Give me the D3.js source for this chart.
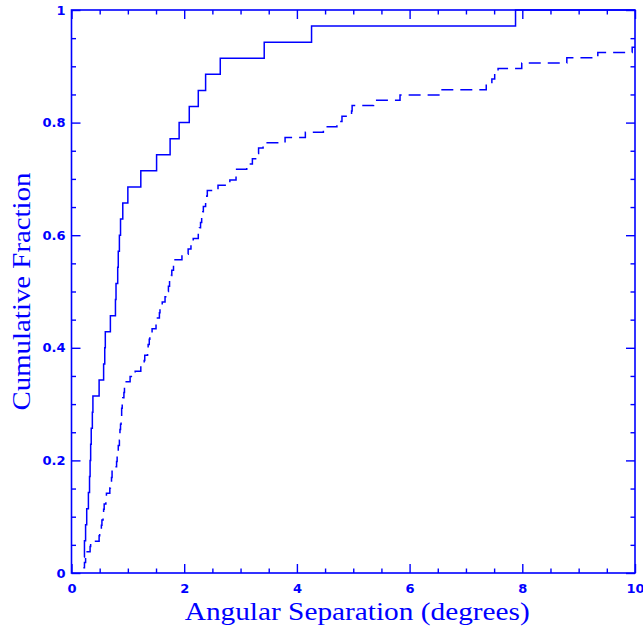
<!DOCTYPE html>
<html>
<head>
<meta charset="utf-8">
<script src="https://cdn.jsdelivr.net/npm/d3@7"></script>
<style>
  html, body { margin: 0; padding: 0; background: #ffffff; }
  svg { display: block; }
</style>
</head>
<body>
<svg id="chart" width="643" height="630"></svg>
<script>
// Sorted angular separations (degrees) for the two samples.
const solidSeparations = [
  0.22, 0.23, 0.25, 0.27, 0.30, 0.32, 0.33, 0.34, 0.35, 0.37,
  0.38, 0.49, 0.57, 0.59, 0.60, 0.69, 0.78, 0.79, 0.82, 0.83,
  0.85, 0.87, 0.91, 1.00, 1.23, 1.51, 1.75, 1.91, 2.09, 2.25,
  2.38, 2.64, 3.42, 4.26, 7.88
];
const solidSampleSize = 35;

const dashedSeparations = [
  0.21, 0.23, 0.25, 0.26, 0.33, 0.34, 0.49, 0.50, 0.53, 0.54,
  0.56, 0.57, 0.58, 0.61, 0.62, 0.68, 0.69, 0.71, 0.72, 0.72,
  0.80, 0.81, 0.82, 0.83, 0.85, 0.86, 0.86, 0.87, 0.88, 0.89,
  0.89, 0.90, 0.91, 0.93, 0.94, 0.95, 1.04, 1.13, 1.23, 1.29,
  1.30, 1.35, 1.36, 1.38, 1.39, 1.43, 1.50, 1.51, 1.56, 1.57,
  1.61, 1.66, 1.69, 1.72, 1.74, 1.77, 1.78, 1.81, 1.82, 1.96,
  2.07, 2.12, 2.16, 2.25, 2.27, 2.29, 2.31, 2.33, 2.34, 2.38,
  2.40, 2.41, 2.60, 2.81, 2.92, 2.93, 3.11, 3.21, 3.31, 3.32,
  3.40, 3.79, 4.15, 4.47, 4.71, 4.80, 4.97, 4.98, 5.36, 5.83,
  6.54, 7.36, 7.46, 7.51, 7.57, 7.99, 8.79, 9.34, 9.95
];
const dashedSampleSize = 106;

const xMajorTicks = [0, 2, 4, 6, 8, 10];
const xMinorTicks = [0.5, 1, 1.5, 2.5, 3, 3.5, 4.5, 5, 5.5, 6.5, 7, 7.5, 8.5, 9, 9.5];
const yMajorTicks = [0, 0.2, 0.4, 0.6, 0.8, 1];
const yMinorTicks = [0.05, 0.1, 0.15, 0.25, 0.3, 0.35, 0.45, 0.5, 0.55, 0.65, 0.7, 0.75, 0.85, 0.9, 0.95];
const xTickLabels = ["0", "2", "4", "6", "8", "10"];
const yTickLabels = ["0", "0.2", "0.4", "0.6", "0.8", "1"];

const xTitle = "Angular Separation (degrees)";
const yTitle = "Cumulative Fraction";

const ink = "#0000ff";
const plotLeft = 71.5, plotRight = 635, plotTop = 10, plotBottom = 573;

const svg = d3.select("#chart");
const x = d3.scaleLinear().domain([0, 10]).range([plotLeft, plotRight]);
const y = d3.scaleLinear().domain([0, 1]).range([plotBottom, plotTop]);

const majorLen = 9, minorLen = 4.5;

function styleAxis(g) {
  g.select(".domain").remove();
  g.selectAll(".tick line").attr("stroke", ink).attr("stroke-width", 1.4);
  g.selectAll(".tick text")
    .attr("fill", ink)
    .style("font-family", "'DejaVu Sans', sans-serif")
    .style("font-weight", "bold")
    .style("font-size", "13px");
}

// bottom
svg.append("g").attr("transform", `translate(0,${plotBottom})`)
  .call(d3.axisBottom(x).tickValues(xMajorTicks).tickSize(-majorLen).tickPadding(11)
    .tickFormat((d, i) => xTickLabels[i]))
  .call(styleAxis);
svg.append("g").attr("transform", `translate(0,${plotBottom})`)
  .call(d3.axisBottom(x).tickValues(xMinorTicks).tickSize(-minorLen).tickFormat(""))
  .call(styleAxis);
// top
svg.append("g").attr("transform", `translate(0,${plotTop})`)
  .call(d3.axisTop(x).tickValues(xMajorTicks).tickSize(-majorLen).tickFormat(""))
  .call(styleAxis);
svg.append("g").attr("transform", `translate(0,${plotTop})`)
  .call(d3.axisTop(x).tickValues(xMinorTicks).tickSize(-minorLen).tickFormat(""))
  .call(styleAxis);
// left
svg.append("g").attr("transform", `translate(${plotLeft},0)`)
  .call(d3.axisLeft(y).tickValues(yMajorTicks).tickSize(-majorLen).tickPadding(6)
    .tickFormat((d, i) => yTickLabels[i]))
  .call(styleAxis);
svg.append("g").attr("transform", `translate(${plotLeft},0)`)
  .call(d3.axisLeft(y).tickValues(yMinorTicks).tickSize(-minorLen).tickFormat(""))
  .call(styleAxis);
// right
svg.append("g").attr("transform", `translate(${plotRight},0)`)
  .call(d3.axisRight(y).tickValues(yMajorTicks).tickSize(-majorLen).tickFormat(""))
  .call(styleAxis);
svg.append("g").attr("transform", `translate(${plotRight},0)`)
  .call(d3.axisRight(y).tickValues(yMinorTicks).tickSize(-minorLen).tickFormat(""))
  .call(styleAxis);

// frame
svg.append("rect")
  .attr("x", plotLeft).attr("y", plotTop)
  .attr("width", plotRight - plotLeft).attr("height", plotBottom - plotTop)
  .attr("fill", "none").attr("stroke", ink).attr("stroke-width", 1.6);

// cumulative step curves
function cdfPoints(values, n) {
  const pts = values.map((v, i) => [v, (i + 1) / n]);
  pts.push([x.domain()[1], values.length / n]);
  return pts;
}
const stepLine = d3.line()
  .x(d => x(d[0])).y(d => y(d[1]))
  .curve(d3.curveStepAfter);

svg.append("path")
  .datum(cdfPoints(dashedSeparations, dashedSampleSize))
  .attr("d", stepLine)
  .attr("fill", "none").attr("stroke", ink).attr("stroke-width", 1.5)
  .attr("stroke-dasharray", "12,7");

svg.append("path")
  .datum(cdfPoints(solidSeparations, solidSampleSize))
  .attr("d", stepLine)
  .attr("fill", "none").attr("stroke", ink).attr("stroke-width", 1.5);

// axis titles
svg.append("text")
  .attr("x", (plotLeft + plotRight) / 2 + 4).attr("y", 620)
  .attr("text-anchor", "middle")
  .attr("fill", ink)
  .attr("textLength", 345).attr("lengthAdjust", "spacingAndGlyphs")
  .style("font-family", "'Liberation Serif', 'DejaVu Serif', serif")
  .style("font-size", "25px")
  .text(xTitle);

svg.append("text")
  .attr("transform", `translate(30,${(plotTop + plotBottom) / 2}) rotate(-90)`)
  .attr("text-anchor", "middle")
  .attr("fill", ink)
  .attr("textLength", 238).attr("lengthAdjust", "spacingAndGlyphs")
  .style("font-family", "'Liberation Serif', 'DejaVu Serif', serif")
  .style("font-size", "25px")
  .text(yTitle);
</script>
</body>
</html>
